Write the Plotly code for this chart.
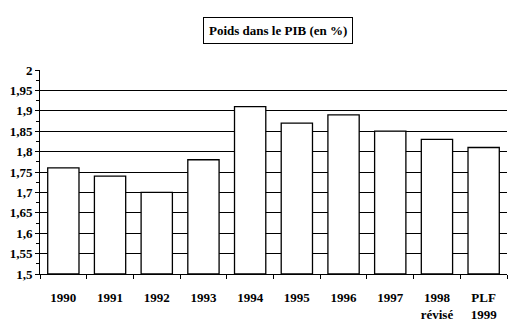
import plotly.graph_objects as go

categories = ["1990", "1991", "1992", "1993", "1994", "1995", "1996", "1997", "1998<br>révisé", "PLF<br>1999"]
values = [1.76, 1.74, 1.70, 1.78, 1.91, 1.87, 1.89, 1.85, 1.83, 1.81]
title_text = "Poids dans le PIB (en %)"
y_ticks = [1.5, 1.55, 1.6, 1.65, 1.7, 1.75, 1.8, 1.85, 1.9, 1.95, 2.0]
y_ticklabels = ["1,5", "1,55", "1,6", "1,65", "1,7", "1,75", "1,8", "1,85", "1,9", "1,95", "2"]
y_base = 1.5

FONT = "Times New Roman, Liberation Serif, serif"
W, H = 519, 329
L, R, T, B = 40, 12, 70, 55

fig = go.Figure()
fig.add_trace(go.Bar(
    x=categories, y=[v - y_base for v in values], base=y_base,
    marker=dict(color="white", line=dict(color="black", width=1.3)),
))

fig.update_layout(
    width=W, height=H,
    margin=dict(l=L, r=R, t=T, b=B, autoexpand=False),
    paper_bgcolor="white", plot_bgcolor="white",
    bargap=0.33,
    showlegend=False,
    font=dict(family=FONT, size=13, color="black"),
    xaxis=dict(
        type="category", automargin=False,
        showline=True, linecolor="black", linewidth=1,
        ticks="outside", tickson="boundaries", ticklen=4, tickcolor="black",
        showgrid=False,
        tickfont=dict(family=FONT, size=13, color="black", weight="bold"),
        ticklabelstandoff=11,
    ),
    yaxis=dict(
        range=[1.5, 2.0], automargin=False,
        tickvals=y_ticks, ticktext=y_ticklabels,
        showline=True, linecolor="black", linewidth=1,
        ticks="outside", ticklen=4, tickcolor="black",
        minor=dict(dtick=0.025, ticks="outside", ticklen=3, tickcolor="black", showgrid=False),
        showgrid=True, gridcolor="black", gridwidth=1,
        zeroline=False,
        tickfont=dict(family=FONT, size=13, color="black", weight="bold"),
    ),
    annotations=[dict(
        text="<b>" + title_text + "</b>",
        xref="paper", yref="paper",
        x=(278 - L) / (W - L - R), y=(H - B - 30) / (H - T - B),
        xanchor="center", yanchor="middle",
        showarrow=False,
        font=dict(family=FONT, size=13, color="black"),
        bordercolor="black", borderwidth=1, borderpad=5, bgcolor="white",
    )],
)

fig.write_html("out.html")
